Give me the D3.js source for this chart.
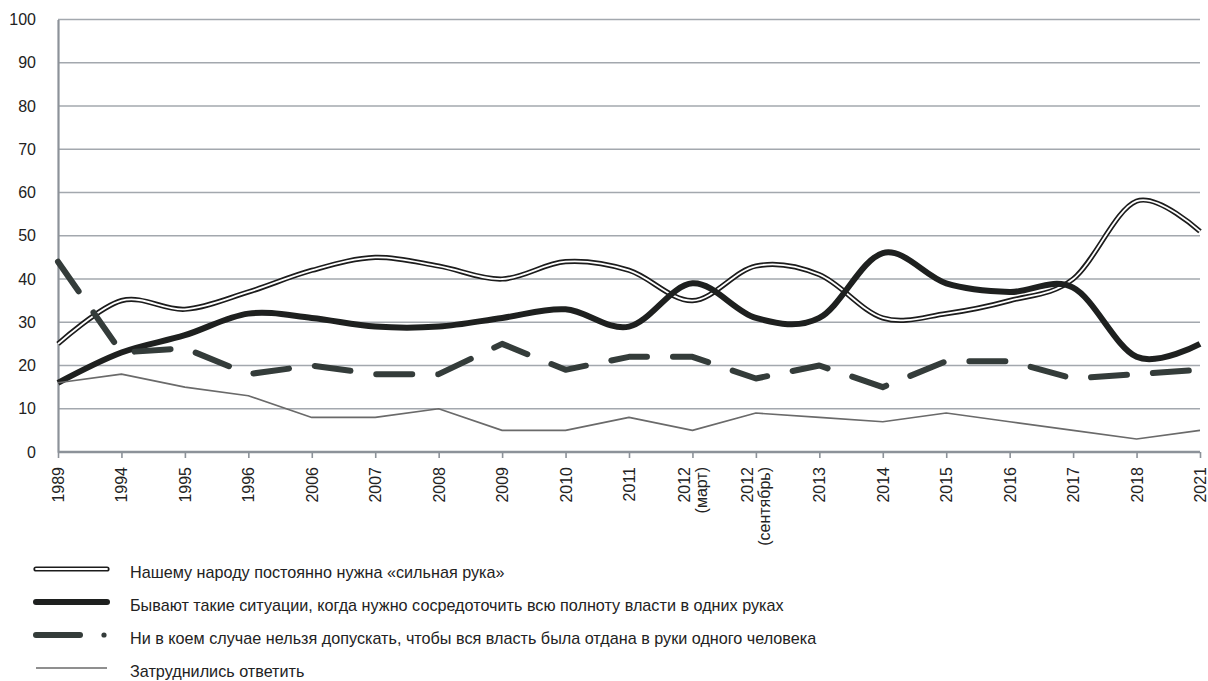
<!DOCTYPE html>
<html><head><meta charset="utf-8">
<script src="https://cdn.jsdelivr.net/npm/d3@7"></script>
<style>
html,body{margin:0;padding:0;background:#fff;}
svg{display:block;}
</style></head>
<body>
<svg id="chart" width="1208" height="681"></svg>
<script>
const categories = ["1989","1994","1995","1996","2006","2007","2008","2009","2010","2011","2012\n(март)","2012\n(сентябрь)","2013","2014","2015","2016","2017","2018","2021"];
const strongHand = [25,35,33,37,42,45,43,40,44,42,35,43,41,31,32,35,40,58,51];
const concentrate = [16,23,27,32,31,29,29,31,33,29,39,31,31,46,39,37,38,22,25];
const never = [44,23,24,18,20,18,18,25,19,22,22,17,20,15,21,21,17,18,19];
const hardToSay = [16,18,15,13,8,8,10,5,5,8,5,9,8,7,9,7,5,3,5];
const yTicks = [0,10,20,30,40,50,60,70,80,90,100];
const legendLabels = [
  "Нашему народу постоянно нужна «сильная рука»",
  "Бывают такие ситуации, когда нужно сосредоточить всю полноту власти в одних руках",
  "Ни в коем случае нельзя допускать, чтобы вся власть была отдана в руки одного человека",
  "Затруднились ответить"
];

(function(){
const svg = d3.select("#chart");
const pLeft = 58, pRight = 1200, pTop = 19.5, pBottom = 452;
const x = d3.scalePoint().domain(d3.range(categories.length)).range([pLeft, pRight]);
const y = d3.scaleLinear().domain([0, 100]).range([pBottom, pTop]);
const gridColor = "#a3a8ae", axisColor = "#8c9299";
const axisFont = "'Liberation Sans', Arial, sans-serif";
const legendFont = "'Liberation Sans Narrow', 'Liberation Sans', sans-serif";

// gridlines
svg.append("g").selectAll("line").data(yTicks.filter(d => d > 0)).join("line")
  .attr("x1", pLeft).attr("x2", pRight)
  .attr("y1", d => y(d)).attr("y2", d => y(d))
  .attr("stroke", gridColor).attr("stroke-width", 1.6);

// y axis
const yAxis = svg.append("g").attr("transform", `translate(${pLeft},0)`)
  .call(d3.axisLeft(y).tickValues(yTicks).tickSize(0).tickPadding(22));
yAxis.select(".domain").attr("stroke", axisColor).attr("stroke-width", 2.2);
yAxis.selectAll("text").attr("font-family", axisFont).attr("font-size", 16).attr("fill", "#222");

// x axis
const xAxis = svg.append("g").attr("transform", `translate(0,${pBottom})`)
  .call(d3.axisBottom(x).tickSize(6).tickFormat(""));
xAxis.select(".domain").attr("stroke", axisColor).attr("stroke-width", 2.6).attr("d", `M${pLeft},0H${pRight}`);
xAxis.selectAll(".tick line").attr("stroke", axisColor).attr("stroke-width", 1.6);
xAxis.selectAll(".tick").each(function(d) {
  const lines = categories[d].split("\n");
  const g = d3.select(this);
  const lh = 17;
  lines.forEach((t, i) => {
    const dx = (i - (lines.length - 1) / 2) * lh;
    g.append("text")
      .attr("transform", `translate(${dx},15) rotate(-90)`)
      .attr("text-anchor", "end")
      .attr("dominant-baseline", "central")
      .attr("font-family", axisFont).attr("font-size", 16).attr("fill", "#222")
      .text(t);
  });
});

const smooth = d3.line().x((d, i) => x(i)).y(d => y(d)).curve(d3.curveCatmullRom.alpha(0));
const straight = d3.line().x((d, i) => x(i)).y(d => y(d));

const plot = svg.append("g");
plot.append("path").attr("d", smooth(strongHand)).attr("fill", "none")
  .attr("stroke", "#1c1c1c").attr("stroke-width", 5.2).attr("stroke-linejoin", "round");
plot.append("path").attr("d", smooth(strongHand)).attr("fill", "none")
  .attr("stroke", "#fff").attr("stroke-width", 1.8).attr("stroke-linejoin", "round");
plot.append("path").attr("d", smooth(concentrate)).attr("fill", "none")
  .attr("stroke", "#1e201f").attr("stroke-width", 6).attr("stroke-linejoin", "round");
plot.append("path").attr("d", straight(never)).attr("fill", "none")
  .attr("stroke", "#343c3a").attr("stroke-width", 6).attr("stroke-linecap", "round")
  .attr("stroke-linejoin", "round").attr("stroke-dasharray", "36,26");
plot.append("path").attr("d", straight(hardToSay)).attr("fill", "none")
  .attr("stroke", "#6a6a6a").attr("stroke-width", 1.6).attr("stroke-linejoin", "round");

// legend
const lg = svg.append("g");
const rowY = [572, 605, 638, 671];
const lx1 = 36, lx2 = 107;
rowY.forEach((ry, i) => {
  const ly = ry - 3;
  if (i === 0) {
    lg.append("line").attr("x1", lx1).attr("x2", lx2).attr("y1", ly).attr("y2", ly)
      .attr("stroke", "#1c1c1c").attr("stroke-width", 5.2).attr("stroke-linecap", "round");
    lg.append("line").attr("x1", lx1).attr("x2", lx2).attr("y1", ly).attr("y2", ly)
      .attr("stroke", "#fff").attr("stroke-width", 1.8).attr("stroke-linecap", "round");
  } else if (i === 1) {
    lg.append("line").attr("x1", lx1).attr("x2", lx2).attr("y1", ly).attr("y2", ly)
      .attr("stroke", "#1e201f").attr("stroke-width", 6).attr("stroke-linecap", "round");
  } else if (i === 2) {
    lg.append("line").attr("x1", lx1).attr("x2", 80).attr("y1", ly).attr("y2", ly)
      .attr("stroke", "#343c3a").attr("stroke-width", 6).attr("stroke-linecap", "round");
    lg.append("circle").attr("cx", 104).attr("cy", ly).attr("r", 2.6).attr("fill", "#343c3a");
  } else {
    lg.append("line").attr("x1", lx1).attr("x2", lx2).attr("y1", ly).attr("y2", ly)
      .attr("stroke", "#6a6a6a").attr("stroke-width", 1.6);
  }
  lg.append("text").attr("x", 130).attr("y", ry).attr("dominant-baseline", "central")
    .attr("font-family", legendFont).attr("font-size", 16.2).attr("fill", "#222")
    .text(legendLabels[i]);
});
})();
</script>
</body></html>
